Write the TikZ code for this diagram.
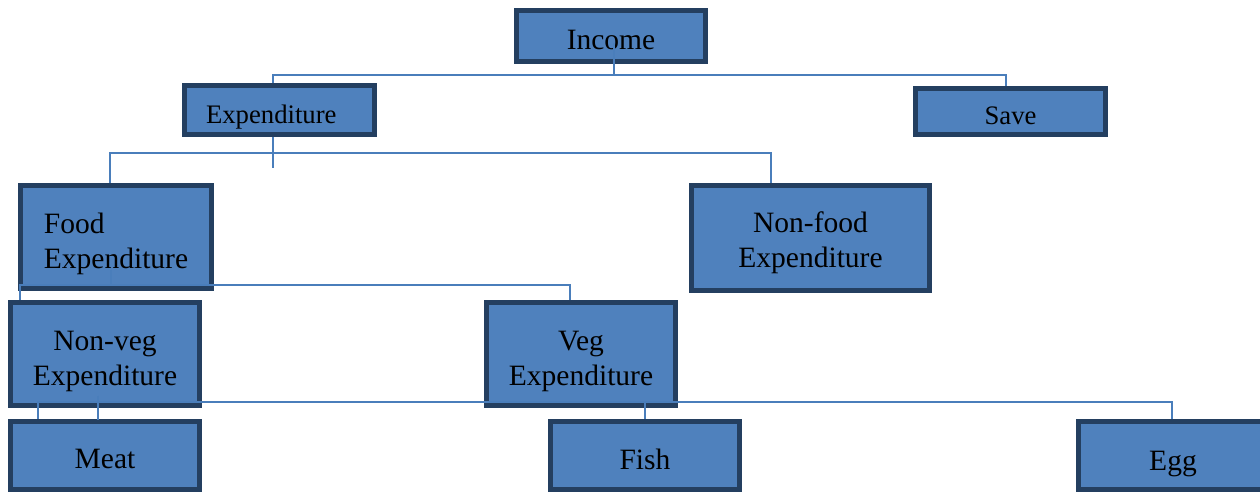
\documentclass[tikz,border=0pt]{standalone}
\usepackage{fontspec}
\setmainfont{Liberation Serif}
\usetikzlibrary{calc}

\definecolor{azulcaixa}{RGB}{79,129,189}
\definecolor{bordaescura}{RGB}{36,63,96}
\definecolor{azullinha}{RGB}{74,126,187}

\newcommand{\alto}[1]{\rule{0pt}{#1}}

\begin{document}
\begin{tikzpicture}[
x=0.02cm, y=-0.02cm,
altura/.style={execute at begin node={\alto{#1}}},
bloco/.style={draw=bordaescura, line width=0.1cm, fill=azulcaixa, inner sep=0pt, align=center, minimum width=3.78cm, minimum height=2.06cm, text depth=0pt, altura=15pt, font=\fontsize{16.8}{20}\selectfont},
pequeno/.style={font=\fontsize{15.2}{18}\selectfont},
linha/.style={draw=azullinha, line width=0.9pt}
]
\useasboundingbox (0,0) rectangle (1260,492);
\node[bloco, minimum height=1.02cm] (income) at (611,36) {Income};
\node[bloco, pequeno, minimum width=3.8cm, minimum height=0.98cm, text width=2.94cm, align=left, altura=13.9pt] (expend) at (279.5,110) {Expenditure};
\node[bloco, pequeno, minimum width=3.8cm, minimum height=0.92cm] (save) at (1010.5,111.5) {Save};
\node[bloco, align=left, minimum width=3.82cm] (food) at (116,237) {\alto{16pt}Food\\Expenditure};
\node[bloco, minimum width=4.76cm, minimum height=2.1cm] (nonfood) at (810.5,238) {\alto{14pt}Non-food\\Expenditure};
\node[bloco] (nonveg) at (105,354) {\alto{16pt}Non-veg\\Expenditure};
\node[bloco] (veg) at (581,354) {\alto{16pt}Veg\\Expenditure};
\node[bloco, minimum height=1.36cm, altura=13.9pt] (meat) at (105,455.5) {Meat};
\node[bloco, minimum height=1.36cm, altura=16.2pt] (fish) at (645,455.5) {Fish};
\node[bloco, minimum height=1.36cm, altura=17.3pt] (egg) at (1173,455.5) {Egg};

% income -> expenditure, save
\coordinate (incj) at (614,75);
\draw[linha] ($(income.center)+(3,7)$) -- (incj);
\draw[linha] (incj) -| ($(expend.north)+(-6.5,0)$);
\draw[linha] (incj) -| ($(save.north)+(-4.5,0)$);

% expenditure -> food, non-food
\coordinate (expj) at (273,153);
\draw[linha] ($(expend.south)+(-6.5,0)$) -- ($(expj)+(0,15)$);
\draw[linha] (expj) -| ($(food.north)+(-6,0)$);
\draw[linha] (expj) -| ($(nonfood.north)+(-39.5,0)$);

% food -> non-veg, veg
\coordinate (foodj) at (111,285);
\draw[linha] ($(food.south)+(-5,-21)$) -- (foodj);
\draw[linha] (foodj) -| ($(nonveg.north)+(-85,0)$);
\draw[linha] (foodj) -| ($(veg.north)+(-11,0)$);

% non-veg -> meat, fish, egg
\coordinate (nvj) at (98,402);
\draw[linha] ($(nonveg.south)+(-7,-12)$) -- ($(nonveg.south)+(-7,12)$);
\draw[linha] (nvj) -| ($(meat.north)+(-67,0)$);
\draw[linha] (nvj) -| ($(egg.north)+(-1,0)$);
\draw[linha] (fish.north |- nvj) -- (fish.north);
\end{tikzpicture}
\end{document}
